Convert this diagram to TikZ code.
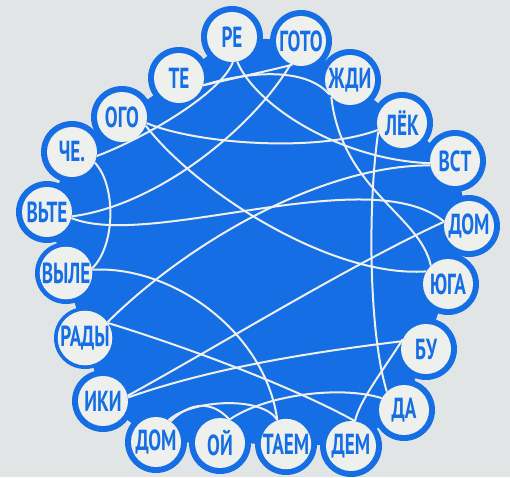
\documentclass[tikz,border=0pt]{standalone}
\usepackage{fontspec}
\newfontfamily\lbl[FakeStretch=0.66]{PT Sans}
\definecolor{bluefill}{RGB}{22,110,228}
\definecolor{paper}{RGB}{226,229,229}
\definecolor{disk}{RGB}{238,240,237}
\tikzset{
  syl/.style={circle, fill=disk, minimum size=50pt, inner sep=0pt, text=bluefill,
    font=\lbl\bfseries\fontsize{29}{29}\selectfont},
  link/.style={draw=disk, line width=2pt},
  ring/.style={fill=bluefill},
}
\begin{document}
\begin{tikzpicture}[x=1pt,y=-1pt]
\fill[paper] (0,0) rectangle (510,477);
\useasboundingbox (0,0) rectangle (510,477);
% blue body
\fill[bluefill] (232,37) -- (301,41) -- (350,80) -- (402,123) -- (455,161) -- (469,226)
  -- (448,284) -- (426,349) -- (404,410) -- (351,446) -- (286,444) -- (220,443)
  -- (156,442) -- (103,401) -- (85,338) -- (66,273) -- (47,212) -- (72,152)
  -- (122,117) -- (179,78) -- cycle;
\foreach \p in {(232,37),(301,41),(350,80),(402,123),(455,161),(469,226),(448,284),
  (426,349),(404,410),(351,446),(286,444),(220,443),(156,442),(103,401),(85,338),
  (66,273),(47,212),(72,152),(122,117),(179,78)}
  \fill[ring] \p circle[radius=31pt];
% syllables
\node[syl] (re) at (232,37) {РЕ};
\node[syl] (goto) at (301,41) {ГОТО};
\node[syl] (zhdi) at (350,80) {ЖДИ};
\node[syl] (lek) at (402,123) {ЛЁК};
\node[syl] (vst) at (455,161) {ВСТ};
\node[syl] (domr) at (469,226) {ДОМ};
\node[syl] (yuga) at (448,284) {ЮГА};
\node[syl] (bu) at (426,349) {БУ};
\node[syl] (da) at (404,410) {ДА};
\node[syl] (dem) at (351,446) {ДЕМ};
\node[syl] (taem) at (286,444) {ТАЕМ};
\node[syl] (oy) at (220,443) {ОЙ};
\node[syl] (domb) at (156,442) {ДОМ};
\node[syl] (iki) at (103,401) {ИКИ};
\node[syl] (rady) at (85,338) {РАДЫ};
\node[syl] (vyle) at (66,273) {ВЫЛЕ};
\node[syl] (vte) at (47,212) {ВЬТЕ};
\node[syl] (che) at (72,152) {ЧЕ.};
\node[syl] (ogo) at (122,117) {ОГО};
\node[syl] (te) at (179,78) {ТЕ};
% connectors
\draw[link] (che.351) .. controls (140,140) and (220,95) .. (re.272);
\draw[link] (re.282) .. controls (255,105) and (340,160) .. (vst.185);
\draw[link] (rady.35) .. controls (185,245) and (320,165) .. (vst.190);
\draw[link] (rady.33) .. controls (180,345) and (290,385) .. (dem.81);
\draw[link] (dem.81) .. controls (360,400) and (380,375) .. (bu.157);
\draw[link] (iki.8) .. controls (220,365) and (330,350) .. (bu.162);
\draw[link] (iki.12) .. controls (220,345) and (350,265) .. (domr.170);
\draw[link] (vte.346) .. controls (150,250) and (370,160) .. (domr.170);
\draw[link] (vte.350) .. controls (160,205) and (255,125) .. (goto.246);
\draw[link] (te.343) .. controls (235,78) and (272,70) .. (goto.250);
\draw[link] (te.343) .. controls (245,72) and (305,66) .. (zhdi.215);
\draw[link] (zhdi.222) .. controls (342,190) and (420,215) .. (yuga.133);
\draw[link] (ogo.340) .. controls (195,190) and (330,278) .. (yuga.150);
\draw[link] (ogo.346) .. controls (200,145) and (320,152) .. (lek.196);
\draw[link] (lek.200) .. controls (368,200) and (368,330) .. (da.133);
\draw[link] (oy.68) .. controls (265,395) and (340,385) .. (da.152);
\draw[link] (domb.55) .. controls (190,402) and (212,400) .. (oy.68);
\draw[link] (domb.60) .. controls (190,400) and (262,395) .. (taem.110);
\draw[link] (vyle.7) .. controls (170,265) and (265,330) .. (taem.110);
\draw[link] (che.335) .. controls (116,185) and (116,245) .. (vyle.10);
\end{tikzpicture}
\end{document}
